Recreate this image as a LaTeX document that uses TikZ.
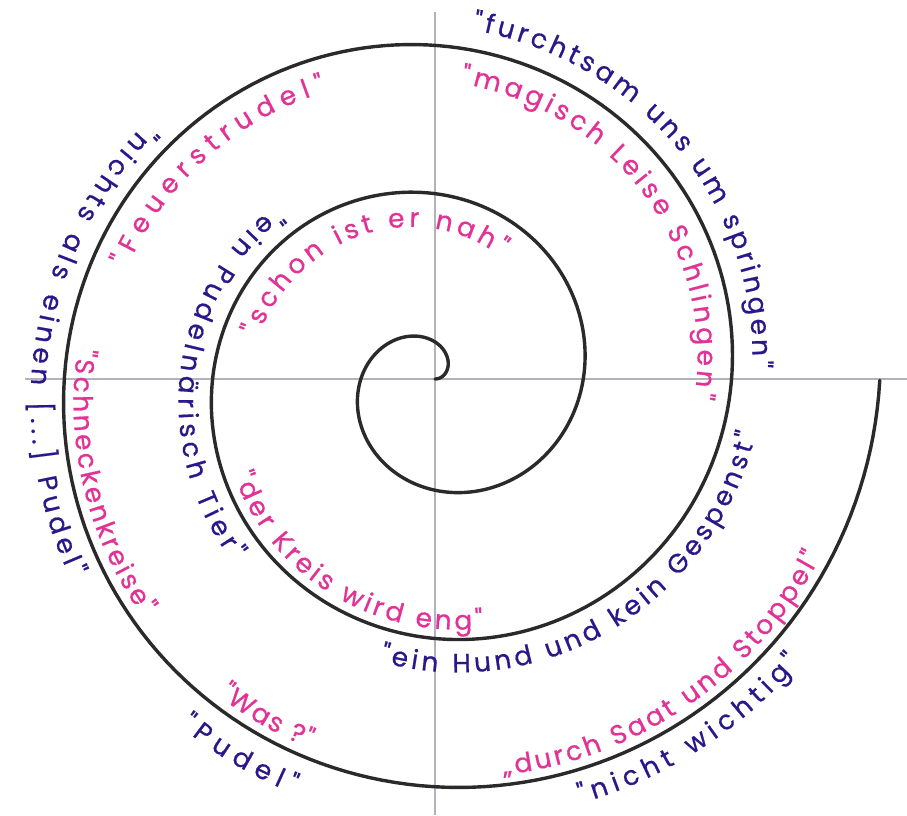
\documentclass[tikz,border=0pt]{standalone}
\usepackage{fontspec}
\setmainfont{Poppins}
\newfontfamily\inkfont{Poppins}[FakeBold=0.6]
\usetikzlibrary{decorations.text}
\definecolor{inkblue}{RGB}{42,24,138}
\definecolor{inkpink}{RGB}{226,50,150}
\definecolor{axisgray}{RGB}{178,178,188}
\definecolor{spiralgray}{RGB}{42,42,42}
\newcommand\hw{\inkfont\fontsize{26.5}{26.5}\selectfont}
\newcommand\spa{23.6}
% #1 start angle, #2 end angle (radians along the spiral), #3 radial offset, #4 colour, #5 text
\newcommand{\alongspiral}[5]{%
  \path[decorate, decoration={text along path, text align={fit to path}, text color=#4, text={|\hw|#5}}]
    plot[domain=0:1, samples=100, variable=\t]
    ({(\spa*(#1+(#2-#1)*\t)+(#3))*cos(deg(#1+(#2-#1)*\t))},
     {(\spa*(#1+(#2-#1)*\t)+(#3))*sin(deg(#1+(#2-#1)*\t))});}
\tikzset{
  axisline/.style={axisgray, line width=1.3pt},
  spiralline/.style={spiralgray, line width=3.4pt, line cap=round}
}
\begin{document}
\begin{tikzpicture}[x=1pt,y=1pt]
\useasboundingbox (-435,-436) rectangle (472,379);
\fill[white] (-435,-436) rectangle (472,379);
% axes
\coordinate (vtop) at (0,367);
\coordinate (vbot) at (0,-436);
\coordinate (hleft) at (-410,0);
\coordinate (hright) at (472,0);
\draw[axisline] (vtop) -- (vbot);
\draw[axisline] (hleft) -- (hright);
% spiral
\draw[spiralline] plot[domain=0:18.85, samples=600] ({\spa*\x*cos(deg(\x))},{\spa*\x*sin(deg(\x))});
% blue texts
\alongspiral{14.03}{12.60}{20}{inkblue}{"furchtsam uns um springen"}
\alongspiral{14.98}{16.21}{33}{inkblue}{"nichts als einen [...] Pudel"}
\alongspiral{8.60}{10.16}{33}{inkblue}{"ein Pudelnärisch Tier"}
\alongspiral{10.80}{12.40}{33}{inkblue}{"ein Hund und kein Gespenst"}
\alongspiral{16.645}{16.95}{38}{inkblue}{"Pudel"}
\alongspiral{17.61}{18.19}{33}{inkblue}{"nicht wichtig"}
% pink texts
\alongspiral{14.05}{12.49}{-35}{inkpink}{"magisch Leise Schlingen"}
\alongspiral{15.36}{14.50}{-35}{inkpink}{"Feuerstrudel"}
\alongspiral{15.62}{16.39}{-10}{inkpink}{"Schneckenkreise"}
\alongspiral{9.19}{7.365}{-35}{inkpink}{"schon ist er nah"}
\alongspiral{9.87}{11.19}{-10}{inkpink}{"der Kreis wird eng"}
\alongspiral{16.68}{16.95}{-10}{inkpink}{"Was ?"}
\alongspiral{17.45}{18.42}{-10}{inkpink}{„durch Saat und Stoppel"}
\end{tikzpicture}
\end{document}
